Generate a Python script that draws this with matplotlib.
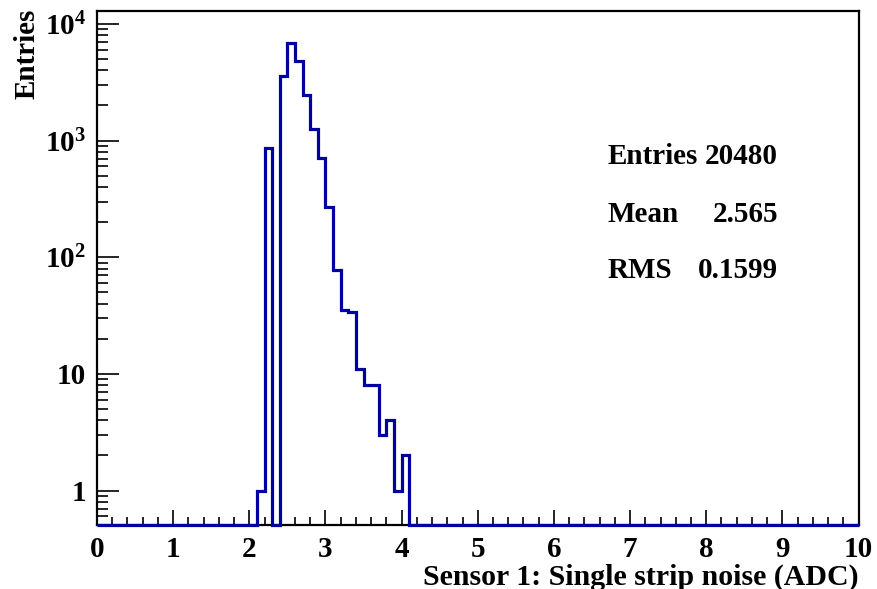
import numpy as np
import matplotlib
matplotlib.use("Agg")
import matplotlib.pyplot as plt
from matplotlib.ticker import FixedLocator, NullFormatter

# font: ROOT-like bold Times
plt.rcParams['font.family'] = ['Liberation Serif', 'DejaVu Serif']
plt.rcParams['font.weight'] = 'bold'
plt.rcParams['mathtext.fontset'] = 'custom'
plt.rcParams['mathtext.rm'] = 'Liberation Serif:bold'
plt.rcParams['mathtext.it'] = 'Liberation Serif:bold'
plt.rcParams['mathtext.bf'] = 'Liberation Serif:bold'

# histogram data (100 bins from 0 to 10 ADC)
x_min = 0.0
x_max = 10.0
n_bins = 100
counts = ([0] * 21 +
          [1, 864, 0, 3557, 6900, 4780, 2459, 1250, 713, 272,
           77, 35, 34, 11, 8, 8, 3, 4, 1, 2] +
          [0] * 59)

stat_names = ["Entries", "Mean", "RMS"]
stat_values = ["20480", "2.565", "0.1599"]

y_ticks = [1, 10, 100, 1000, 10000]
y_ticklabels = ["1", "10", r"$10^{2}$", r"$10^{3}$", r"$10^{4}$"]
x_ticks = list(range(0, 11))

y_lo = 0.51
y_hi = 1.29e4

# figure
fig = plt.figure(figsize=(8.77, 5.89), dpi=100)
ax = fig.add_axes([97/877, 1-524.7/589, (858.5-97)/877, (524.7-11)/589])

edges = np.linspace(x_min, x_max, n_bins + 1)
counts = np.array(counts, dtype=float)
draw_vals = np.where(counts > 0, counts, y_lo)   # empty bins sit on the frame, like ROOT
ax.stairs(draw_vals, edges, color='#0000a0', linewidth=2.3, zorder=3,
          clip_on=False, baseline=None)

ax.set_yscale('log')
ax.set_xlim(x_min, x_max)
ax.set_ylim(y_lo, y_hi)

ax.yaxis.set_major_locator(FixedLocator(y_ticks))
ax.set_yticklabels(y_ticklabels)
minors = [m * 10**d for d in range(-1, 5) for m in range(2, 10)]
ax.yaxis.set_minor_locator(FixedLocator(minors))
ax.yaxis.set_minor_formatter(NullFormatter())

ax.set_xticks(x_ticks)
ax.set_xticklabels([str(v) for v in x_ticks])
ax.xaxis.set_minor_locator(FixedLocator(np.arange(0, 10.01, 0.2)))

ax.tick_params(axis='both', which='both', direction='in', top=False, right=False,
               labelsize=21, width=1.2, colors='black')
ax.tick_params(axis='x', which='major', length=11, pad=8)
ax.tick_params(axis='x', which='minor', length=5.5)
ax.tick_params(axis='y', which='major', length=16, pad=8)
ax.tick_params(axis='y', which='minor', length=8)

for sp in ax.spines.values():
    sp.set_linewidth(1.6)
    sp.set_color('black')

# axis titles (ROOT style, aligned to the ends)
ax.text(1.0, -0.116, "Sensor 1: Single strip noise (ADC)", transform=ax.transAxes,
        ha='right', va='baseline', fontsize=21.5, fontweight='bold')
ax.text(-0.092, 1.005, "Entries", transform=ax.transAxes, rotation=90,
        ha='center', va='top', fontsize=21, fontweight='bold')

# stats box
stat_y = [157, 214, 270]
for name, val, yp in zip(stat_names, stat_values, stat_y):
    fig.text(608/877, 1 - yp/589, name, ha='left', va='center', fontsize=21, fontweight='bold')
    fig.text(778/877, 1 - yp/589, val, ha='right', va='center', fontsize=21, fontweight='bold')

fig.savefig("out.png", dpi=100)
